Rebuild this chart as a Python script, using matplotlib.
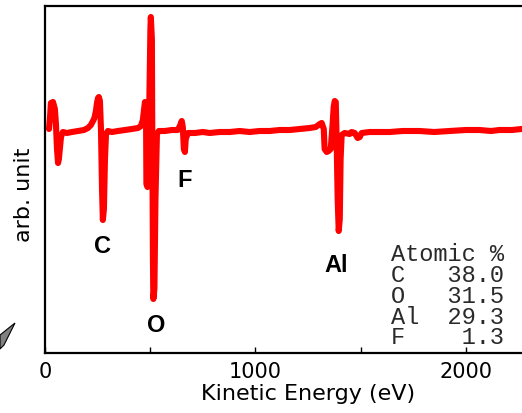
import numpy as np
import matplotlib
matplotlib.use('Agg')
import matplotlib.pyplot as plt
from matplotlib.patches import Polygon

# Auger spectrum (derivative mode)
energy = [19, 24, 28, 38, 47, 52, 57, 62, 66, 76, 85, 104, 128, 157, 185, 204,
          218, 233, 237, 242, 247, 252, 256, 261, 266, 271, 275, 280, 285, 290,
          299, 318, 347, 380, 413, 442, 456, 465, 470, 475, 480, 482, 487, 491,
          496, 501, 503, 508, 510, 513, 515, 520, 525, 532, 541, 570, 603, 631,
          641, 650, 655, 660, 665, 669, 679, 712, 750, 783, 830, 878, 925, 973,
          1020, 1068, 1115, 1163, 1210, 1258, 1287, 1306, 1315, 1325, 1329, 1339,
          1348, 1358, 1367, 1372, 1377, 1382, 1386, 1391, 1396, 1401, 1405, 1410,
          1424, 1448, 1457, 1472, 1486, 1496, 1505, 1543, 1590, 1638, 1700, 1780,
          1850, 1923, 2000, 2065, 2120, 2160, 2220, 2265, 2300]
intensity = [2, 14, 28, 29, 22, 7, -18, -32, -28, -6, -1, -2, -1, 0, 1, 3,
             6, 12, 15, 20, 28, 33, 34, 30, 2, -58, -89, -78, -28, -3,
             0, -1, 0, 1, 2, 3, 5, 11, 20, 29, 28, -53, -56, -28,
             32, 102, 114, 92, -8, -128, -168, -158, -68, -3, 0, 0, 1, 1,
             5, 10, 4, -18, -21, -8, -2, -2, -1, -2, -1, -1, 0, -1,
             0, 0, 1, 1, 2, 3, 4, 7, 8, 2, -18, -21,
             -20, -18, 7, 24, 30, 29, -8, -68, -100, -88, -28, -4,
             -2, -3, -1, -2, -7, -6, -2, -1, -1, -1, 0, 0,
             -1, 0, 1, 1, 0, 1, 1, 2, 2]

peak_labels = ['C', 'O', 'F', 'Al']
peak_x = [271, 527, 665, 1382]
peak_y = [-115, -194, -49, -134]

elements = ['C', 'O', 'Al', 'F']
atomic_pct = [38.0, 31.5, 29.3, 1.3]

W, H = 522, 414
fig = plt.figure(figsize=(W / 100, H / 100), dpi=100)
# axes run past the right edge of the picture (cropped original)
ax = fig.add_axes([45 / W, 1 - 354 / H, (571 - 45) / W, (354 - 7) / H])

ax.plot(energy, intensity, color='#ff0000', lw=4.4, solid_joinstyle='round',
        solid_capstyle='round')

ax.set_xlim(0, 2500)
ax.set_ylim(-222, 125)
ax.set_xticks([0, 1000, 2000])
ax.set_xticks([500, 1500, 2500], minor=True)
ax.set_yticks([])
ax.tick_params(axis='x', which='both', direction='in', length=4, width=1,
               labelsize=15, pad=6)
for s in ax.spines.values():
    s.set_linewidth(1.6)

ax.set_xlabel('Kinetic Energy (eV)', fontsize=16, labelpad=1)
ax.set_ylabel('arb. unit', fontsize=16)
ax.yaxis.set_label_coords(-0.02, 0.46)

for lab, x, y in zip(peak_labels, peak_x, peak_y):
    ax.text(x, y, lab, ha='center', va='center', fontsize=17,
            fontweight='bold', family='Liberation Sans')

rows = ['Atomic %'] + [f'{e:<3}{v:5.1f}' for e, v in zip(elements, atomic_pct)]
fig.text(504 / W, 1 - 243 / H, '\n'.join(rows), ha='right', va='top',
         family='Liberation Mono', fontsize=17, linespacing=0.88, color='#2a2a2a')

# grey pointer fragment at bottom-left corner
fig.patches.append(Polygon([(15 / W, 1 - 324 / H), (0, 1 - 336 / H),
                            (0, 1 - 350 / H), (4 / W, 1 - 346 / H)],
                           closed=True, transform=fig.transFigure,
                           facecolor='#808080', edgecolor='black', lw=0.8))

fig.savefig('out.png', dpi=100)
